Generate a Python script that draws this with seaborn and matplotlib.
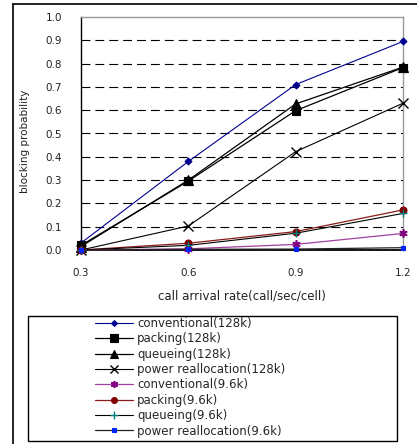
import matplotlib
matplotlib.use("Agg")
import matplotlib.pyplot as plt
import seaborn as sns
import pandas as pd
from matplotlib.lines import Line2D

x_rates = [0.3, 0.6, 0.9, 1.2]
conventional_128k = [0.03, 0.38, 0.71, 0.895]
packing_128k = [0.02, 0.296, 0.598, 0.783]
queueing_128k = [0.015, 0.30, 0.627, 0.785]
power_realloc_128k = [0.0, 0.103, 0.422, 0.63]
conventional_96k = [0.0, 0.005, 0.024, 0.071]
packing_96k = [0.0, 0.029, 0.079, 0.172]
queueing_96k = [0.0, 0.02, 0.072, 0.157]
power_realloc_96k = [0.0, 0.003, 0.004, 0.01]

series_names = ["conventional(128k)", "packing(128k)", "queueing(128k)",
                "power reallocation(128k)", "conventional(9.6k)", "packing(9.6k)",
                "queueing(9.6k)", "power reallocation(9.6k)"]
series_values = [conventional_128k, packing_128k, queueing_128k, power_realloc_128k,
                 conventional_96k, packing_96k, queueing_96k, power_realloc_96k]

styles = [
    dict(color="#000090", marker="D", ms=3.5, mfc="#000090", mec="#000090", lw=0.8),
    dict(color="black", marker="s", ms=6, mfc="black", mec="black", lw=0.9),
    dict(color="black", marker="^", ms=7, mfc="black", mec="black", lw=0.9),
    dict(color="black", marker="x", ms=7, mfc="black", mec="black", lw=0.8, mew=1.0),
    dict(color="#A040A0", marker=(6, 2, 0), ms=6, mfc="#800080", mec="#800080", lw=0.9, mew=1.2),
    dict(color="#8B1A1A", marker="o", ms=5, mfc="#800000", mec="#800000", lw=0.9),
    dict(color="black", marker="+", ms=6, mfc="#008080", mec="#008080", lw=0.8, mew=1.0),
    dict(color="#222222", marker="s", ms=3.5, mfc="#0022FF", mec="#0022FF", lw=0.9),
]

rows = []
for name, vals in zip(series_names, series_values):
    for xv, yv in zip(x_rates, vals):
        rows.append({"rate": xv, "prob": yv, "series": name})
df = pd.DataFrame(rows)

sns.set_style("white")
plt.rcParams["font.family"] = ["DejaVu Sans"]

fig = plt.figure(figsize=(4.17, 4.44), dpi=100)
ax = fig.add_axes([81 / 417, 1 - 250 / 444, (403 - 81) / 417, (250 - 17) / 444])

handles = []
for name, st in zip(series_names, styles):
    sub = df[df["series"] == name]
    sns.lineplot(data=sub, x="rate", y="prob", ax=ax, color=st["color"], lw=st["lw"],
                 marker=st["marker"], markersize=st["ms"], markerfacecolor=st["mfc"],
                 markeredgecolor=st["mec"], markeredgewidth=st.get("mew", 0.8),
                 clip_on=False, legend=False, zorder=3)
    handles.append(Line2D([0], [0], color=st["color"], lw=st["lw"], marker=st["marker"],
                          markersize=st["ms"] * 0.85, markerfacecolor=st["mfc"],
                          markeredgecolor=st["mec"], markeredgewidth=st.get("mew", 0.8),
                          label=name))

ax.set_xlim(0.3, 1.2)
ax.set_ylim(0, 1.0)
ax.set_xticks(x_rates)
ax.set_xticklabels(["0.3", "0.6", "0.9", "1.2"])
yt = [i / 10 for i in range(11)]
ax.set_yticks(yt)
ax.set_yticklabels([f"{v:.1f}" for v in yt])
for v in yt[1:-1]:
    ax.axhline(v, color="black", lw=0.8, ls=(0, (8, 4.5)), zorder=1)
ax.tick_params(axis="both", length=0, labelsize=7.5, colors="#222222")
ax.tick_params(axis="x", pad=13)
ax.tick_params(axis="y", pad=13.5)

ax.spines["left"].set_color("black")
ax.spines["left"].set_linewidth(1.0)
ax.spines["bottom"].set_color("black")
ax.spines["bottom"].set_linewidth(1.3)
ax.spines["top"].set_color("#999999")
ax.spines["right"].set_color("#999999")
ax.spines["top"].set_linewidth(1.0)
ax.spines["right"].set_linewidth(1.0)

ax.set_xlabel("call arrival rate(call/sec/cell)", fontsize=8.5, color="#222222", labelpad=8)
ax.set_ylabel("blocking probability", fontsize=7.5, color="#222222", labelpad=4)
ax.yaxis.set_label_coords(-0.158, 0.468)

leg = fig.legend(handles=handles, loc="upper left", bbox_to_anchor=(95 / 417, 1 - 317 / 444),
                 frameon=False, fontsize=8.5, handlelength=3.2, handletextpad=0.35,
                 labelspacing=0.2, borderpad=0, borderaxespad=0)

# legend box
fig.patches.append(plt.Rectangle((28 / 417, 1 - 441 / 444), (397 - 28) / 417, (441 - 316) / 444,
                                 transform=fig.transFigure, fill=False, edgecolor="black",
                                 lw=1.0, zorder=5))
# outer border (left and top)
fig.lines.append(Line2D([12.5 / 417, 12.5 / 417], [0, 1 - 4.5 / 444], transform=fig.transFigure,
                        color="black", lw=1.2))
fig.lines.append(Line2D([12.5 / 417, 1], [1 - 4.5 / 444, 1 - 4.5 / 444], transform=fig.transFigure,
                        color="black", lw=1.2))

fig.savefig("out.png", dpi=100)
